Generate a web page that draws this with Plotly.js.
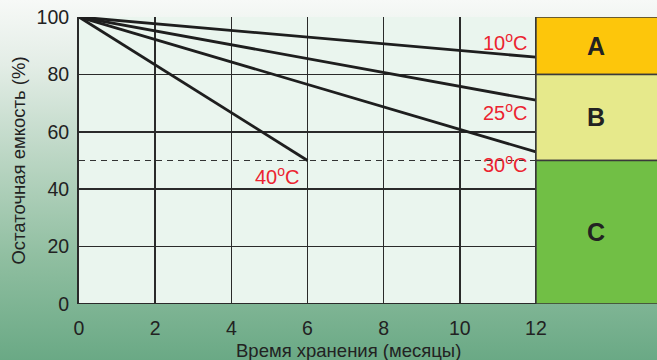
<!DOCTYPE html>
<html>
<head>
<meta charset="utf-8">
<script src="https://cdn.plot.ly/plotly-3.0.1.min.js"></script>
<style>
  html, body { margin: 0; padding: 0; }
  #chart {
    width: 657px; height: 360px;
    background: linear-gradient(to bottom, #f7f9f7 0%, #e3ede6 18%, #b9d5c2 45%, #8fbea0 72%, #6aa985 100%);
  }
</style>
</head>
<body>
<div id="chart"></div>
<script>
// Data
const months = [0, 12];
const cap10 = [100, 86];
const cap25 = [100, 71];
const cap30 = [100, 53];
const months40 = [0, 6];
const cap40 = [100, 50];
const refLevel = [50, 50];
const xTicks = [0, 2, 4, 6, 8, 10, 12];
const yTicks = [0, 20, 40, 60, 80, 100];
const tempLabels = ["10<sup>o</sup>C", "25<sup>o</sup>C", "30<sup>o</sup>C", "40<sup>o</sup>C"];
const zoneNames = ["A", "B", "C"];
const zoneBounds = [[80, 100], [50, 80], [0, 50]];
const zoneColors = ["#fdc60b", "#e6e98b", "#71bf45"];

const FONT = "Liberation Sans, Arial, sans-serif";
const lineStyle = {color: "#1e1e1e", width: 2.8};
const traces = [
  {x: months, y: cap10, mode: "lines", line: lineStyle, hoverinfo: "skip"},
  {x: months, y: cap25, mode: "lines", line: lineStyle, hoverinfo: "skip"},
  {x: months, y: cap30, mode: "lines", line: lineStyle, hoverinfo: "skip"},
  {x: months40, y: cap40, mode: "lines", line: lineStyle, hoverinfo: "skip"},
  {x: months, y: refLevel, mode: "lines", line: {color: "#333", width: 1.2, dash: "6px,5px"}, hoverinfo: "skip"}
];

const xMax = 578 / 38.08;
const boxX0 = 12 / xMax;

const shapes = zoneBounds.map((b, i) => ({
  type: "rect", xref: "paper", yref: "y", x0: boxX0, x1: 1.01, y0: b[0], y1: b[1],
  fillcolor: zoneColors[i], line: {color: "#3a3a3a", width: 1.5}, layer: "above"
}));

const redFont = {family: FONT, size: 20, color: "#ec2330"};
const annotations = [
  {x: 11.85, y: 91.6, text: tempLabels[0]},
  {x: 11.85, y: 67.2, text: tempLabels[1]},
  {x: 11.85, y: 49.1, text: tempLabels[2]},
  {x: 5.85, y: 44.8, text: tempLabels[3]}
].map(a => Object.assign(a, {xref: "x", yref: "y", xanchor: "right", yanchor: "middle", showarrow: false, font: redFont}));

zoneBounds.forEach((b, i) => {
  annotations.push({
    xref: "paper", yref: "y", x: (boxX0 + 1) / 2, y: (b[0] + b[1]) / 2,
    xanchor: "center", yanchor: "middle",
    text: "<b>" + zoneNames[i] + "</b>", showarrow: false,
    font: {family: FONT, size: 25, color: "#222"}
  });
});

annotations.push({
  xref: "paper", yref: "paper", x: (348 - 79) / 578, y: -0.161, xanchor: "center", yanchor: "middle",
  text: "Время хранения (месяцы)", showarrow: false,
  font: {family: FONT, size: 18.5, color: "#222"}
});

const layout = {
  width: 657, height: 360,
  margin: {l: 79, r: 0, t: 17, b: 56, pad: 0},
  paper_bgcolor: "rgba(0,0,0,0)",
  plot_bgcolor: "#eaf5ee",
  showlegend: false,
  font: {family: FONT, color: "#222"},
  xaxis: {
    range: [0, xMax], tickvals: xTicks, ticktext: xTicks.map(String),
    showgrid: true, gridcolor: "#2a2a2a", gridwidth: 1.5,
    zeroline: false, showline: false,
    ticks: "outside", ticklen: 7, tickcolor: "rgba(0,0,0,0)",
    tickfont: {size: 19.5, color: "#222"}, fixedrange: true
  },
  yaxis: {
    range: [0, 100], tickvals: yTicks, ticktext: yTicks.map(String),
    showgrid: true, gridcolor: "#2a2a2a", gridwidth: 1.5,
    zeroline: false, showline: true, linecolor: "#2a2a2a", linewidth: 2,
    ticks: "outside", ticklen: 4, tickcolor: "rgba(0,0,0,0)",
    tickfont: {size: 19.5, color: "#222"},
    title: {text: "Остаточная емкость (%)", font: {size: 18.5, color: "#222"}, standoff: 6},
    fixedrange: true
  },
  shapes: shapes.concat([
    {type: "line", xref: "x", yref: "y", x0: 0, x1: 12, y0: 0, y1: 0, line: {color: "#2a2a2a", width: 2}, layer: "above"}
  ]),
  annotations: annotations
};

Plotly.newPlot("chart", traces, layout, {displayModeBar: false, staticPlot: true});
</script>
</body>
</html>
